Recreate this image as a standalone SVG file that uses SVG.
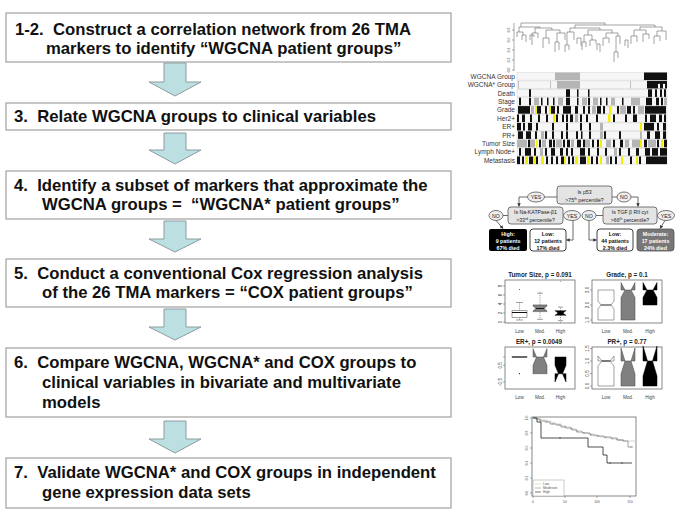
<svg xmlns="http://www.w3.org/2000/svg" width="685" height="516" viewBox="0 0 685 516">
<style>
.box{fill:#fff;stroke:#a8a8a8;stroke-width:1.3}
.st{font-family:"Liberation Sans",Arial,sans-serif;font-weight:bold;font-size:16.7px;fill:#111;white-space:pre}
.arr{fill:#bcdfe2;stroke:#8c9c9e;stroke-width:1}
.hl{font-family:"Liberation Sans",Arial,sans-serif;font-size:6.5px;fill:#333;text-anchor:end}
.k{fill:#111}.g{fill:#b5b5b5}.y{fill:#f2f000}.base{fill:#f6f6f6;stroke:#ccc;stroke-width:0.4}
.dendro{fill:none;stroke:#666;stroke-width:0.6}
.tb{fill:#e4e4e4;stroke:#555;stroke-width:0.8}
.el{fill:#eee;stroke:#555;stroke-width:0.8}
.tt{font-family:"Liberation Sans",Arial,sans-serif;font-size:5.2px;fill:#222;text-anchor:middle}
.lt{font-family:"Liberation Sans",Arial,sans-serif;font-size:5.3px;font-weight:bold;text-anchor:middle}
.ln{fill:none;stroke:#444;stroke-width:0.8}
.frame{fill:none;stroke:#555;stroke-width:0.7}
.ax{font-family:"Liberation Sans",Arial,sans-serif;font-size:4.6px;fill:#444;text-anchor:middle}
.ptitle{font-family:"Liberation Sans",Arial,sans-serif;font-size:6.3px;font-weight:bold;fill:#222;text-anchor:middle}
.tick{stroke:#555;stroke-width:0.5}
.wh{stroke:#444;stroke-width:0.5;stroke-dasharray:1,0.8;fill:none}
.cap{stroke:#444;stroke-width:0.5}
.tiny{font-family:"Liberation Sans",Arial,sans-serif;font-size:3.4px;fill:#555}
</style>
<defs>
<marker id="ah" viewBox="0 0 6 6" refX="5.5" refY="3" markerWidth="3.5" markerHeight="3.5" markerUnits="userSpaceOnUse" orient="auto">
<path d="M0,0 L6,3 L0,6 Z" fill="#333"/>
</marker>
</defs>

<!-- Steps -->
<g id="step1">
<rect class="box" x="6" y="13" width="445" height="49"/>
<text class="st" x="15" y="35">1-2.  Construct a correlation network from 26 TMA</text>
<text class="st" x="46" y="54">markers to identify “WGCNA patient groups”</text>
</g>
<g id="step3">
<rect class="box" x="6" y="103" width="445" height="27"/>
<text class="st" x="14" y="122">3.  Relate WGCNA groups to clinical variables</text>
</g>
<g id="step4">
<rect class="box" x="6" y="171" width="445" height="48"/>
<text class="st" x="14" y="191">4.  Identify a subset of markers that approximate the</text>
<text class="st" x="42" y="210">WGCNA groups =  “WGCNA* patient groups”</text>
</g>
<g id="step5">
<rect class="box" x="6" y="259" width="445" height="48"/>
<text class="st" x="14" y="279">5.  Conduct a conventional Cox regression analysis</text>
<text class="st" x="42" y="298">of the 26 TMA markers = “COX patient groups”</text>
</g>
<g id="step6">
<rect class="box" x="6" y="348" width="445" height="69"/>
<text class="st" x="14" y="368">6.  Compare WGCNA, WGCNA* and COX groups to</text>
<text class="st" x="42" y="388">clinical variables in bivariate and multivariate</text>
<text class="st" x="42" y="408">models</text>
</g>
<g id="step7">
<rect class="box" x="6" y="458" width="445" height="50"/>
<text class="st" x="14" y="478">7.  Validate WGCNA* and COX groups in independent</text>
<text class="st" x="42" y="498">gene expression data sets</text>
</g>

<g id="connectors">
<polygon class="arr" points="164,63 186,63 186,82 201,82 175,96 149,82 164,82"/>
<polygon class="arr" points="164,133 186,133 186,150 201,150 175,164 149,150 164,150"/>
<polygon class="arr" points="164,221 186,221 186,239 201,239 175,252 149,239 164,239"/>
<polygon class="arr" points="164,309 186,309 186,327 201,327 175,340 149,327 164,327"/>
<polygon class="arr" points="164,421 186,421 186,439 201,439 175,453 149,439 164,439"/>
</g>

<!-- Dendrogram + heatmap -->
<g id="dendrogram">
<line class="tick" x1="514" y1="23" x2="514" y2="71"/>
<line class="tick" x1="512" y1="30" x2="514" y2="30"/><line class="tick" x1="512" y1="40" x2="514" y2="40"/><line class="tick" x1="512" y1="50" x2="514" y2="50"/><line class="tick" x1="512" y1="60" x2="514" y2="60"/><line class="tick" x1="512" y1="70" x2="514" y2="70"/>
<text class="tiny" text-anchor="middle" transform="translate(510,30) rotate(-90)">0.8</text>
<text class="tiny" text-anchor="middle" transform="translate(510,40) rotate(-90)">0.6</text>
<text class="tiny" text-anchor="middle" transform="translate(510,50) rotate(-90)">0.4</text>
<text class="tiny" text-anchor="middle" transform="translate(510,60) rotate(-90)">0.2</text>
<text class="tiny" text-anchor="middle" transform="translate(510,70) rotate(-90)">0.0</text>
<path class="dendro" d="M521,27 V23 H605 V25 M575,28 V25 H655 V27 M519,32 V27 H540 V28 M517,37 V32 H523 V35 M522,40 V35 H526 V42 M535,33 V28 H552 V30 M532,45 V33 H538 V38 M546,38 V30 H560 V33 M543,48 V38 H549 V44 M557,42 V33 H565 V40 M555,52 V42 H559 V50 M570,32 V28 H600 V30 M567,45 V32 H574 V40 M565,52 V45 H569 V50 M588,35 V30 H612 V33 M584,42 V35 H592 V40 M582,50 V42 H586 V47 M590,46 V40 H596 V44 M606,38 V33 H618 V36 M603,46 V38 H609 V43 M616,52 V36 H620 V44 M614,62 V52 H618 V58 M640,30 V27 H662 V31 M634,36 V30 H646 V34 M631,44 V36 H637 V42 M643,42 V34 H649 V39 M657,36 V31 H666 V40 M654,44 V36 H660 V41 M530,40 V35 H534 V37 M577,44 V38 H581 V46 M597,50 V44 H600 V52 M625,46 V40 H628 V48"/>
</g>

<g id="heatmap">
<text class="hl" x="515" y="78.7">WGCNA Group</text>
<text class="hl" x="515" y="87.1">WGCNA* Group</text>
<text class="hl" x="515" y="95.5">Death</text>
<text class="hl" x="515" y="103.9">Stage</text>
<text class="hl" x="515" y="112.3">Grade</text>
<text class="hl" x="515" y="120.7">Her2+</text>
<text class="hl" x="515" y="129.1">ER+</text>
<text class="hl" x="515" y="137.5">PR+</text>
<text class="hl" x="515" y="145.9">Tumor Size</text>
<text class="hl" x="515" y="154.3">Lymph Node+</text>
<text class="hl" x="515" y="162.7">Metastasis</text>

<g transform="translate(0,72.5)"><rect class="base" x="517" y="0" width="150" height="7.6"/>
<rect class="g" x="555" y="0" width="25" height="7.6"/><rect class="k" x="644" y="0" width="23" height="7.6"/></g>

<g transform="translate(0,80.9)"><rect class="base" x="517" y="0" width="150" height="7.6"/>
<rect class="g" x="518" y="0" width="0.8" height="7.6"/><rect class="g" x="550" y="0" width="0.8" height="7.6"/><rect class="g" x="557" y="0" width="23" height="7.6"/><rect class="g" x="630" y="0" width="0.8" height="7.6"/>
<rect class="k" x="647" y="0" width="20" height="7.6"/><rect fill="#fff" x="658" y="3" width="2" height="4.6"/><rect fill="#fff" x="663" y="3" width="2" height="4.6"/></g>

<g transform="translate(0,89.3)"><rect class="base" x="517" y="0" width="150" height="7.6"/>
<rect class="k" x="529" y="0" width="2" height="7.6"/><rect class="k" x="566" y="0" width="4" height="7.6"/><rect class="k" x="577" y="0" width="1.5" height="7.6"/><rect class="k" x="588" y="0" width="1.5" height="7.6"/><rect class="k" x="648" y="0" width="4" height="7.6"/><rect class="k" x="655" y="0" width="2" height="7.6"/><rect class="k" x="660" y="0" width="2" height="7.6"/><rect class="k" x="664" y="0" width="2" height="7.6"/></g>

<g transform="translate(0,97.7)"><rect class="base" x="517" y="0" width="150" height="7.6"/>
<rect class="g" x="534" y="0" width="5" height="7.6"/><rect class="g" x="558" y="0" width="5" height="7.6"/><rect class="g" x="582" y="0" width="5" height="7.6"/><rect class="g" x="593" y="0" width="5" height="7.6"/><rect class="g" x="611" y="0" width="4" height="7.6"/><rect class="g" x="631" y="0" width="9" height="7.6"/><rect class="g" x="664" y="0" width="3" height="7.6"/>
<rect class="k" x="519" y="0" width="2" height="7.6"/><rect class="k" x="529" y="0" width="2" height="7.6"/><rect class="k" x="541" y="0" width="1.5" height="7.6"/><rect class="k" x="547" y="0" width="1.5" height="7.6"/><rect class="k" x="553" y="0" width="1.5" height="7.6"/><rect class="k" x="566" y="0" width="4" height="7.6"/><rect class="k" x="577" y="0" width="1.5" height="7.6"/><rect class="k" x="588" y="0" width="2" height="7.6"/><rect class="k" x="600" y="0" width="1.5" height="7.6"/><rect class="k" x="606" y="0" width="1.5" height="7.6"/><rect class="k" x="622" y="0" width="1.5" height="7.6"/><rect class="k" x="646" y="0" width="6" height="7.6"/><rect class="k" x="656" y="0" width="3" height="7.6"/><rect class="k" x="661" y="0" width="2" height="7.6"/></g>

<g transform="translate(0,106.1)"><rect class="base" x="517" y="0" width="150" height="7.6"/>
<rect class="g" x="531" y="0" width="3" height="7.6"/><rect class="g" x="592" y="0" width="4" height="7.6"/><rect class="g" x="620" y="0" width="6" height="7.6"/><rect class="g" x="638" y="0" width="6" height="7.6"/>
<rect class="k" x="518" y="0" width="12" height="7.6"/><rect class="k" x="537" y="0" width="4" height="7.6"/><rect class="k" x="545" y="0" width="2" height="7.6"/><rect class="k" x="551" y="0" width="4" height="7.6"/><rect class="k" x="557" y="0" width="2" height="7.6"/><rect class="k" x="563" y="0" width="8" height="7.6"/><rect class="k" x="575" y="0" width="3" height="7.6"/><rect class="k" x="583" y="0" width="2" height="7.6"/><rect class="k" x="588" y="0" width="2" height="7.6"/><rect class="k" x="597" y="0" width="4" height="7.6"/><rect class="k" x="603" y="0" width="2" height="7.6"/><rect class="k" x="617" y="0" width="2" height="7.6"/><rect class="k" x="627" y="0" width="4" height="7.6"/><rect class="k" x="633" y="0" width="2" height="7.6"/><rect class="k" x="645" y="0" width="21" height="7.6"/>
<rect class="y" x="535" y="0" width="2" height="7.6"/><rect class="y" x="549" y="0" width="2" height="7.6"/><rect class="y" x="609" y="0" width="2.5" height="7.6"/></g>

<g transform="translate(0,114.5)"><rect class="base" x="517" y="0" width="150" height="7.6"/>
<rect class="g" x="575" y="0" width="3" height="7.6"/>
<rect class="k" x="517" y="0" width="2" height="7.6"/><rect class="k" x="522" y="0" width="3" height="7.6"/><rect class="k" x="530" y="0" width="2" height="7.6"/><rect class="k" x="538" y="0" width="2" height="7.6"/><rect class="k" x="546" y="0" width="2" height="7.6"/><rect class="k" x="556" y="0" width="2" height="7.6"/><rect class="k" x="562" y="0" width="2" height="7.6"/><rect class="k" x="566" y="0" width="2" height="7.6"/><rect class="k" x="570" y="0" width="3" height="7.6"/><rect class="k" x="580" y="0" width="2" height="7.6"/><rect class="k" x="586" y="0" width="2" height="7.6"/><rect class="k" x="596" y="0" width="2" height="7.6"/><rect class="k" x="613" y="0" width="2" height="7.6"/><rect class="k" x="625" y="0" width="2" height="7.6"/><rect class="k" x="633" y="0" width="4" height="7.6"/><rect class="k" x="645" y="0" width="2" height="7.6"/><rect class="k" x="650" y="0" width="6" height="7.6"/><rect class="k" x="659" y="0" width="3" height="7.6"/><rect class="k" x="664" y="0" width="2" height="7.6"/>
<rect class="y" x="553" y="0" width="2.5" height="7.6"/><rect class="y" x="608" y="0" width="2.5" height="7.6"/></g>

<g transform="translate(0,122.9)"><rect class="base" x="517" y="0" width="150" height="7.6"/>
<rect class="g" x="600" y="0" width="3" height="7.6"/>
<rect class="k" x="517" y="0" width="4" height="7.6"/><rect class="k" x="523" y="0" width="2" height="7.6"/><rect class="k" x="528" y="0" width="4" height="7.6"/><rect class="k" x="536" y="0" width="2" height="7.6"/><rect class="k" x="552" y="0" width="2" height="7.6"/><rect class="k" x="566" y="0" width="2" height="7.6"/><rect class="k" x="580" y="0" width="2" height="7.6"/><rect class="k" x="589" y="0" width="2" height="7.6"/><rect class="k" x="644" y="0" width="10" height="7.6"/><rect class="k" x="657" y="0" width="2" height="7.6"/><rect class="k" x="663" y="0" width="3" height="7.6"/>
<rect class="y" x="640" y="0" width="2" height="7.6"/></g>

<g transform="translate(0,131.3)"><rect class="base" x="517" y="0" width="150" height="7.6"/>
<rect class="g" x="541" y="0" width="3" height="7.6"/><rect class="g" x="600" y="0" width="3" height="7.6"/><rect class="g" x="640" y="0" width="2" height="7.6"/>
<rect class="k" x="518" y="0" width="5" height="7.6"/><rect class="k" x="526" y="0" width="5" height="7.6"/><rect class="k" x="535" y="0" width="2" height="7.6"/><rect class="k" x="545" y="0" width="2" height="7.6"/><rect class="k" x="552" y="0" width="2" height="7.6"/><rect class="k" x="561" y="0" width="2" height="7.6"/><rect class="k" x="566" y="0" width="2" height="7.6"/><rect class="k" x="576" y="0" width="2" height="7.6"/><rect class="k" x="581" y="0" width="1.5" height="7.6"/><rect class="k" x="589" y="0" width="2" height="7.6"/><rect class="k" x="604" y="0" width="2" height="7.6"/><rect class="k" x="619" y="0" width="2" height="7.6"/><rect class="k" x="647" y="0" width="3" height="7.6"/><rect class="k" x="655" y="0" width="5" height="7.6"/><rect class="k" x="663" y="0" width="3" height="7.6"/></g>

<g transform="translate(0,139.7)"><rect class="base" x="517" y="0" width="150" height="7.6"/>
<rect class="g" x="517" y="0" width="10" height="7.6"/><rect class="g" x="530" y="0" width="5" height="7.6"/><rect class="g" x="542" y="0" width="4" height="7.6"/><rect class="g" x="556" y="0" width="6" height="7.6"/><rect class="g" x="571" y="0" width="3" height="7.6"/><rect class="g" x="585" y="0" width="5" height="7.6"/><rect class="g" x="606" y="0" width="5" height="7.6"/><rect class="g" x="625" y="0" width="4" height="7.6"/><rect class="g" x="632" y="0" width="10" height="7.6"/><rect class="g" x="648" y="0" width="8" height="7.6"/>
<rect class="k" x="528" y="0" width="2" height="7.6"/><rect class="k" x="539" y="0" width="2" height="7.6"/><rect class="k" x="549" y="0" width="3" height="7.6"/><rect class="k" x="553" y="0" width="2" height="7.6"/><rect class="k" x="563" y="0" width="2" height="7.6"/><rect class="k" x="567" y="0" width="3" height="7.6"/><rect class="k" x="577" y="0" width="4" height="7.6"/><rect class="k" x="583" y="0" width="2" height="7.6"/><rect class="k" x="592" y="0" width="2" height="7.6"/><rect class="k" x="597" y="0" width="2" height="7.6"/><rect class="k" x="613" y="0" width="2" height="7.6"/><rect class="k" x="620" y="0" width="3" height="7.6"/><rect class="k" x="644" y="0" width="3" height="7.6"/><rect class="k" x="657" y="0" width="2" height="7.6"/><rect class="k" x="664" y="0" width="3" height="7.6"/>
<rect class="y" x="536" y="0" width="1.5" height="7.6"/><rect class="y" x="600" y="0" width="2" height="7.6"/><rect class="y" x="640" y="0" width="2" height="7.6"/><rect class="y" x="661" y="0" width="2" height="7.6"/></g>

<g transform="translate(0,148.1)"><rect class="base" x="517" y="0" width="150" height="7.6"/>
<rect class="g" x="540" y="0" width="3" height="7.6"/><rect class="g" x="614" y="0" width="3" height="7.6"/>
<rect class="k" x="519" y="0" width="2" height="7.6"/><rect class="k" x="525" y="0" width="6" height="7.6"/><rect class="k" x="534" y="0" width="2" height="7.6"/><rect class="k" x="545" y="0" width="2" height="7.6"/><rect class="k" x="551" y="0" width="4" height="7.6"/><rect class="k" x="560" y="0" width="3" height="7.6"/><rect class="k" x="566" y="0" width="2" height="7.6"/><rect class="k" x="571" y="0" width="2" height="7.6"/><rect class="k" x="580" y="0" width="5" height="7.6"/><rect class="k" x="588" y="0" width="2" height="7.6"/><rect class="k" x="597" y="0" width="2" height="7.6"/><rect class="k" x="605" y="0" width="2" height="7.6"/><rect class="k" x="619" y="0" width="2" height="7.6"/><rect class="k" x="628" y="0" width="2" height="7.6"/><rect class="k" x="636" y="0" width="3" height="7.6"/><rect class="k" x="645" y="0" width="5" height="7.6"/><rect class="k" x="652" y="0" width="6" height="7.6"/><rect class="k" x="660" y="0" width="7" height="7.6"/></g>

<g transform="translate(0,156.5)"><rect class="base" x="517" y="0" width="150" height="7.6"/>
<rect class="g" x="606" y="0" width="3" height="7.6"/>
<rect class="k" x="517" y="0" width="3" height="7.6"/><rect class="k" x="522" y="0" width="2" height="7.6"/><rect class="k" x="529" y="0" width="4" height="7.6"/><rect class="k" x="536" y="0" width="2" height="7.6"/><rect class="k" x="546" y="0" width="2" height="7.6"/><rect class="k" x="551" y="0" width="2" height="7.6"/><rect class="k" x="556" y="0" width="2" height="7.6"/><rect class="k" x="561" y="0" width="3" height="7.6"/><rect class="k" x="568" y="0" width="2" height="7.6"/><rect class="k" x="572" y="0" width="2" height="7.6"/><rect class="k" x="580" y="0" width="6" height="7.6"/><rect class="k" x="591" y="0" width="2" height="7.6"/><rect class="k" x="596" y="0" width="2" height="7.6"/><rect class="k" x="610" y="0" width="2" height="7.6"/><rect class="k" x="615" y="0" width="2" height="7.6"/><rect class="k" x="630" y="0" width="2" height="7.6"/><rect class="k" x="639" y="0" width="2" height="7.6"/><rect class="k" x="646" y="0" width="21" height="7.6"/>
<rect class="y" x="525" y="0" width="3" height="7.6"/><rect class="y" x="533" y="0" width="3" height="7.6"/><rect class="y" x="541" y="0" width="3" height="7.6"/><rect class="y" x="564" y="0" width="2" height="7.6"/><rect class="y" x="575" y="0" width="3" height="7.6"/><rect class="y" x="587" y="0" width="3" height="7.6"/><rect class="y" x="600" y="0" width="2" height="7.6"/><rect class="y" x="621" y="0" width="2" height="7.6"/><rect class="y" x="636" y="0" width="2" height="7.6"/></g>
</g>

<!-- Decision tree -->
<g id="tree-lines">
<line class="ln" x1="544.5" y1="197" x2="557" y2="197"/>
<line class="ln" x1="612" y1="197" x2="617" y2="197"/>
<path class="ln" d="M527.5,197 H519 V206.5" marker-end="url(#ah)"/>
<path class="ln" d="M631,197 H638 V206.5" marker-end="url(#ah)"/>
<line class="ln" x1="503" y1="215.5" x2="508" y2="215.5"/>
<line class="ln" x1="596" y1="215.5" x2="603" y2="215.5"/>
<path class="ln" d="M496,220.5 L503,228.5" marker-end="url(#ah)"/>
<path class="ln" d="M573,220.5 V240 H566.5" marker-end="url(#ah)"/>
<path class="ln" d="M589,220.5 V240 H596.5" marker-end="url(#ah)"/>
<path class="ln" d="M665,220.5 L660,228.5" marker-end="url(#ah)"/>
</g>
<g id="q-p53">
<rect class="tb" x="557" y="186" width="55" height="18" rx="3"/>
<text class="tt" x="584.5" y="193.5">Is p53</text>
<text class="tt" x="584.5" y="201.5">&gt;75<tspan font-size="3.4" dy="-1.6">th</tspan><tspan dy="1.6"> percentile?</tspan></text>
</g>
<g id="yes1"><ellipse class="el" cx="536" cy="197" rx="8.5" ry="5"/><text class="tt" x="536" y="199">YES</text></g>
<g id="no1"><ellipse class="el" cx="624" cy="197" rx="7" ry="5"/><text class="tt" x="624" y="199">NO</text></g>
<g id="q-na">
<rect class="tb" x="508" y="207" width="55" height="17" rx="3"/>
<text class="tt" x="535.5" y="213.5">Is Na-KATPase-β1</text>
<text class="tt" x="535.5" y="221.5">&gt;33<tspan font-size="3.4" dy="-1.6">rd</tspan><tspan dy="1.6"> percentile?</tspan></text>
</g>
<g id="q-tgf">
<rect class="tb" x="603" y="207" width="54" height="17" rx="3"/>
<text class="tt" x="630" y="213.5">Is TGF β RII cyt</text>
<text class="tt" x="630" y="221.5">&gt;66<tspan font-size="3.4" dy="-1.6">th</tspan><tspan dy="1.6"> percentile?</tspan></text>
</g>
<g id="no2"><ellipse class="el" cx="496" cy="215.5" rx="7" ry="5"/><text class="tt" x="496" y="217.5">NO</text></g>
<g id="yes2"><ellipse class="el" cx="572" cy="215.5" rx="8.5" ry="5"/><text class="tt" x="572" y="217.5">YES</text></g>
<g id="no3"><ellipse class="el" cx="589" cy="215.5" rx="7" ry="5"/><text class="tt" x="589" y="217.5">NO</text></g>
<g id="yes3"><ellipse class="el" cx="666" cy="215.5" rx="8.5" ry="5"/><text class="tt" x="666" y="217.5">YES</text></g>
<g id="leaf-high">
<rect x="489" y="229" width="38" height="22" rx="2" fill="#000"/>
<text class="lt" fill="#fff" x="508" y="235.5">High:</text>
<text class="lt" fill="#fff" x="508" y="242.5">9 patients</text>
<text class="lt" fill="#fff" x="508" y="249.5">67% died</text>
</g>
<g id="leaf-low1">
<rect x="530" y="229" width="36" height="22" rx="3" fill="#fff" stroke="#111" stroke-width="0.8"/>
<text class="lt" fill="#111" x="548" y="235.5">Low:</text>
<text class="lt" fill="#111" x="548" y="242.5">12 patients</text>
<text class="lt" fill="#111" x="548" y="249.5">17% died</text>
</g>
<g id="leaf-low2">
<rect x="597" y="229" width="36" height="22" rx="3" fill="#fff" stroke="#111" stroke-width="0.8"/>
<text class="lt" fill="#111" x="615" y="235.5">Low:</text>
<text class="lt" fill="#111" x="615" y="242.5">44 patients</text>
<text class="lt" fill="#111" x="615" y="249.5">2.3% died</text>
</g>
<g id="leaf-mod">
<rect x="637" y="229" width="37" height="22" rx="3" fill="#777" stroke="#555" stroke-width="0.8"/>
<text class="lt" fill="#fff" x="655.5" y="235.5">Moderate:</text>
<text class="lt" fill="#fff" x="655.5" y="242.5">17 patients</text>
<text class="lt" fill="#fff" x="655.5" y="249.5">24% died</text>
</g>

<!-- Boxplots -->
<g id="bp-tumor">
<text class="ptitle" x="540" y="277">Tumor Size, p = 0.091</text>
<rect class="frame" x="505" y="280" width="70" height="43"/>
<line class="tick" x1="503" y1="322" x2="505" y2="322"/><line class="tick" x1="503" y1="313" x2="505" y2="313"/><line class="tick" x1="503" y1="304" x2="505" y2="304"/><line class="tick" x1="503" y1="295" x2="505" y2="295"/><line class="tick" x1="503" y1="286" x2="505" y2="286"/>
<text class="ax" transform="translate(501.5,322) rotate(-90)">0</text>
<text class="ax" transform="translate(501.5,313) rotate(-90)">2</text>
<text class="ax" transform="translate(501.5,304) rotate(-90)">4</text>
<text class="ax" transform="translate(501.5,295) rotate(-90)">6</text>
<text class="ax" transform="translate(501.5,286) rotate(-90)">8</text>
<path class="wh" d="M519.5,317.5 V320 M519.5,310.75 V302.5 M540,311.6 V319.3 M540,304.9 V293.2 M560.5,315.2 V320.6 M560.5,310.75 V307.1"/>
<path class="cap" d="M516,320 H523 M516,302.5 H523 M537,319.3 H543 M537,293.2 H543 M558,320.6 H563 M558,307.1 H563"/>
<rect x="512" y="310.75" width="15" height="6.75" fill="#fff" stroke="#444" stroke-width="0.5"/>
<line x1="512" y1="312.5" x2="527" y2="312.5" stroke="#111" stroke-width="1"/>
<polygon points="533,311.6 533,311 536,308.5 533,306 533,304.9 547,304.9 547,306 544,308.5 547,311 547,311.6" fill="#808080" stroke="#444" stroke-width="0.5"/>
<line x1="536" y1="308.5" x2="544" y2="308.5" stroke="#111" stroke-width="0.9"/>
<polygon points="555,315.2 555,315.5 558,313 555,310.5 555,310.75 566,310.75 566,310.5 563,313 566,315.5 566,315.2" fill="#000" stroke="#000" stroke-width="0.5"/>
<circle cx="519.5" cy="289.6" r="0.5" fill="#333"/><circle cx="540" cy="292" r="0.4" fill="#333"/><circle cx="560.5" cy="281.5" r="0.4" fill="#333"/><circle cx="560.5" cy="322" r="0.4" fill="#333"/>
<text class="ax" x="519.5" y="333">Low</text><text class="ax" x="540" y="333">Mod.</text><text class="ax" x="560.5" y="333">High</text>
</g>

<g id="bp-grade">
<text class="ptitle" x="627" y="277">Grade, p = 0.1</text>
<rect class="frame" x="592" y="280" width="70" height="43"/>
<line class="tick" x1="590" y1="320" x2="592" y2="320"/><line class="tick" x1="590" y1="305" x2="592" y2="305"/><line class="tick" x1="590" y1="290" x2="592" y2="290"/>
<text class="ax" transform="translate(588.5,320) rotate(-90)">1.0</text>
<text class="ax" transform="translate(588.5,305) rotate(-90)">2.0</text>
<text class="ax" transform="translate(588.5,290) rotate(-90)">3.0</text>
<polygon points="598,320 598,309 601,305 598,301 598,290 614,290 614,301 611,305 614,309 614,320" fill="#fff" stroke="#444" stroke-width="0.5"/>
<line x1="601" y1="305" x2="611" y2="305" stroke="#111" stroke-width="0.9"/>
<polygon points="621,320 621,297.5 625,290 621,282.5 621,290 635,290 635,282.5 631,290 635,297.5 635,320" fill="#808080" stroke="#444" stroke-width="0.5"/>
<polygon points="643,305 643,297.5 647,290 643,282.5 643,290 657,290 657,282.5 653,290 657,297.5 657,305" fill="#000" stroke="#000" stroke-width="0.5"/>
<text class="ax" x="606" y="333">Low</text><text class="ax" x="628" y="333">Mod.</text><text class="ax" x="650" y="333">High</text>
</g>

<g id="bp-er">
<text class="ptitle" x="539" y="344">ER+, p = 0.0049</text>
<rect class="frame" x="505" y="347" width="70" height="42"/>
<line class="tick" x1="503" y1="365.3" x2="505" y2="365.3"/><line class="tick" x1="503" y1="382" x2="505" y2="382"/><line class="tick" x1="503" y1="357" x2="505" y2="357"/>
<text class="ax" transform="translate(501.5,365.3) rotate(-90)">0.5</text>
<text class="ax" transform="translate(501.5,382) rotate(-90)">-0.5</text>
<rect x="512" y="356.5" width="15" height="1" fill="#fff" stroke="#444" stroke-width="0.4"/>
<line x1="512" y1="357" x2="527" y2="357" stroke="#111" stroke-width="0.9"/>
<circle cx="519.5" cy="373.7" r="0.6" fill="#222"/>
<polygon points="533,373.7 533,365.35 536.5,357 533,348.65 533,357 547,357 547,348.65 543.5,357 547,365.35 547,373.7" fill="#808080" stroke="#444" stroke-width="0.5"/>
<polygon points="555,373.7 555,382 558.5,373.7 555,365.35 555,357 566,357 566,365.35 562.5,373.7 566,382 566,373.7" fill="#000" stroke="#000" stroke-width="0.5"/>
<text class="ax" x="519.5" y="399">Low</text><text class="ax" x="540" y="399">Mod.</text><text class="ax" x="560.5" y="399">High</text>
</g>

<g id="bp-pr">
<text class="ptitle" x="627" y="344">PR+, p = 0.77</text>
<rect class="frame" x="592" y="347" width="70" height="42"/>
<line class="tick" x1="590" y1="386" x2="592" y2="386"/><line class="tick" x1="590" y1="373.5" x2="592" y2="373.5"/><line class="tick" x1="590" y1="361" x2="592" y2="361"/><line class="tick" x1="590" y1="348.5" x2="592" y2="348.5"/>
<text class="ax" transform="translate(588.5,386) rotate(-90)">0.0</text>
<text class="ax" transform="translate(588.5,373.5) rotate(-90)">0.5</text>
<text class="ax" transform="translate(588.5,361) rotate(-90)">1.0</text>
<text class="ax" transform="translate(588.5,348.5) rotate(-90)">1.5</text>
<polygon points="598,386 598,366 602,361 598,356 598,361 614,361 614,356 610,361 614,366 614,386" fill="#fff" stroke="#444" stroke-width="0.5"/>
<line x1="602" y1="361" x2="610" y2="361" stroke="#111" stroke-width="0.9"/>
<polygon points="621,386 621,374 625,361 621,348 621,361 635,361 635,348 631,361 635,374 635,386" fill="#808080" stroke="#444" stroke-width="0.5"/>
<polygon points="643,386 643,376 647.5,361 643,346 643,361 657,361 657,346 652.5,361 657,376 657,386" fill="#000" stroke="#000" stroke-width="0.5"/>
<text class="ax" x="606" y="399">Low</text><text class="ax" x="628" y="399">Mod.</text><text class="ax" x="650" y="399">High</text>
</g>

<!-- Survival -->
<g id="survival">
<rect class="frame" x="532" y="417" width="104" height="79"/>
<line class="tick" x1="530" y1="418" x2="532" y2="418"/><line class="tick" x1="530" y1="433" x2="532" y2="433"/><line class="tick" x1="530" y1="448" x2="532" y2="448"/><line class="tick" x1="530" y1="463" x2="532" y2="463"/><line class="tick" x1="530" y1="478" x2="532" y2="478"/><line class="tick" x1="530" y1="493" x2="532" y2="493"/>
<text class="tiny" text-anchor="middle" transform="translate(528,418) rotate(-90)">1.0</text>
<text class="tiny" text-anchor="middle" transform="translate(528,433) rotate(-90)">0.8</text>
<text class="tiny" text-anchor="middle" transform="translate(528,448) rotate(-90)">0.6</text>
<text class="tiny" text-anchor="middle" transform="translate(528,463) rotate(-90)">0.4</text>
<text class="tiny" text-anchor="middle" transform="translate(528,478) rotate(-90)">0.2</text>
<text class="tiny" text-anchor="middle" transform="translate(528,493) rotate(-90)">0.0</text>
<line class="tick" x1="533" y1="496" x2="533" y2="498"/><line class="tick" x1="565" y1="496" x2="565" y2="498"/><line class="tick" x1="597" y1="496" x2="597" y2="498"/><line class="tick" x1="630" y1="496" x2="630" y2="498"/>
<text class="tiny" text-anchor="middle" x="533" y="503">0</text>
<text class="tiny" text-anchor="middle" x="565" y="503">50</text>
<text class="tiny" text-anchor="middle" x="597" y="503">100</text>
<text class="tiny" text-anchor="middle" x="630" y="503">150</text>
<path d="M533,418 H537 V419 H541 V420 H546 V421 H551 V423 H556 V424 H561 V426 H566 V427 H571 V429 H576 V431 H582 V433 H588 V434 H594 V436 H600 V437 H606 V438 H612 V439 H618 V440 H624 V441 H636" fill="none" stroke="#c8c8c8" stroke-width="0.8"/>
<path d="M533,418 H536 V419 H540 V421 H545 V422 H550 V424 H556 V425 H561 V427 H566 V428 H572 V430 H577 V432 H583 V433 H590 V435 H597 V436 H604 V437 H611 V438 H617 V440 H623 V441 H628 V447 H633" fill="none" stroke="#8a8a8a" stroke-width="0.8"/>
<path d="M540,419.5 v2 M547,420.5 v2 M553,422.5 v2 M559,424 v2 M565,426 v2 M571,428 v2 M577,430.5 v2 M584,432 v2 M591,433.5 v2 M598,435 v2 M605,436.5 v2 M612,437.5 v2 M617,438.5 v2 M620,439 v2 M623,439.5 v2 M631,446 v2" stroke="#777" stroke-width="0.5"/>
<path d="M533,418 H537 V422 H541 V438 H588 V447 H603 V455 H607 V463 H632" fill="none" stroke="#222" stroke-width="0.8"/>
<path d="M560,437 v2 M610,462 v2 M622,462 v2" stroke="#222" stroke-width="0.6"/>
<rect x="533" y="480" width="31" height="16" fill="#fff" stroke="#999" stroke-width="0.5"/>
<line x1="535" y1="484" x2="541" y2="484" stroke="#c8c8c8" stroke-width="0.6"/>
<line x1="535" y1="488" x2="541" y2="488" stroke="#8a8a8a" stroke-width="0.6"/>
<line x1="535" y1="492" x2="541" y2="492" stroke="#222" stroke-width="0.6"/>
<text class="tiny" x="543" y="485.2">Low</text>
<text class="tiny" x="543" y="489.2">Moderate</text>
<text class="tiny" x="543" y="493.2">High</text>
</g>
</svg>
